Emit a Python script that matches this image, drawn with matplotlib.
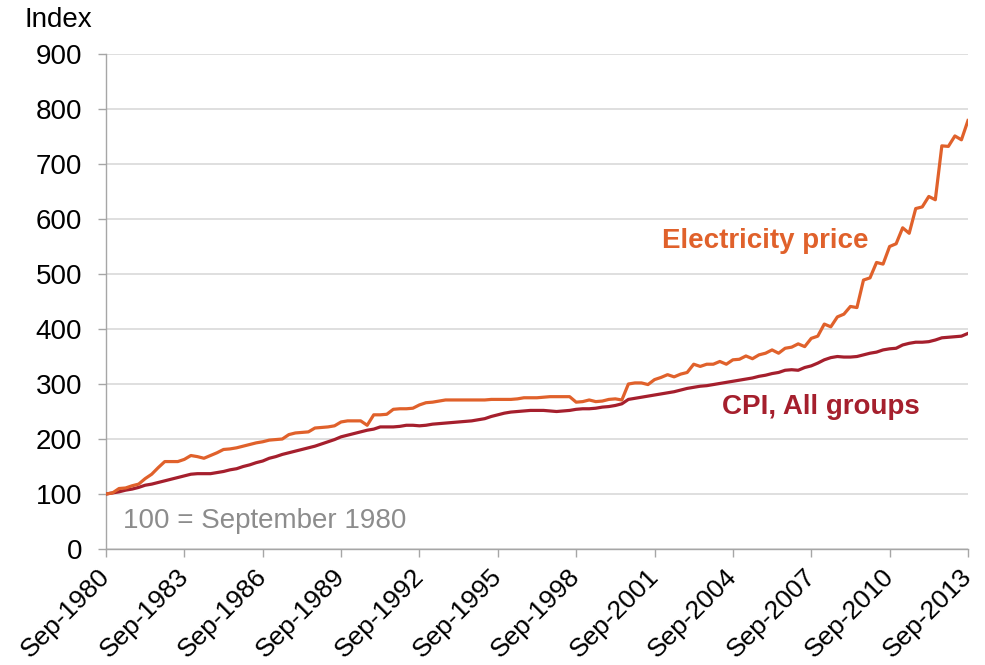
"""
Electricity price vs CPI (All groups), index 100 = September 1980, quarterly.
"""

import matplotlib
matplotlib.use("Agg")
import matplotlib.pyplot as plt
import matplotlib.transforms as mtransforms
import numpy as np

plt.rcParams.update({
    'font.family': ['Liberation Sans', 'DejaVu Sans'],
    'font.size': 20,
    'axes.linewidth': 1.0,
    'axes.spines.top': False,
    'axes.spines.right': False,
    'figure.facecolor': 'white',
})

# Quarterly series, Sep-1980 .. Sep-2013 (133 quarters)
electricity = [
    100, 102, 110, 111, 115, 118, 128, 136, 148, 159, 159, 159,
    163, 170, 168, 165, 170, 175, 181, 182, 184, 187, 190, 193,
    195, 198, 199, 200, 208, 211, 212, 213, 220, 221, 222, 224,
    231, 233, 233, 233, 225, 244, 244, 245, 254, 255, 255, 256,
    262, 266, 267, 269, 271, 271, 271, 271, 271, 271, 271, 272,
    272, 272, 272, 273, 275, 275, 275, 276, 277, 277, 277, 277,
    267, 268, 271, 268, 269, 272, 273, 271, 300, 302, 302, 299,
    308, 312, 317, 313, 318, 321, 336, 332, 336, 336, 341, 336,
    344, 345, 351, 346, 353, 356, 362, 356, 365, 367, 373, 368,
    383, 387, 409, 404, 422, 427, 441, 439, 489, 493, 521, 518,
    550, 555, 584, 574, 619, 622, 641, 635, 733, 732, 751, 744,
    779,
]

cpi = [
    100, 102, 104, 107, 109, 112, 116, 118, 121, 124, 127, 130,
    133, 136, 137, 137, 137, 139, 141, 144, 146, 150, 153, 157,
    160, 165, 168, 172, 175, 178, 181, 184, 187, 191, 195, 199,
    204, 207, 210, 213, 216, 218, 222, 222, 222, 223, 225, 225,
    224, 225, 227, 228, 229, 230, 231, 232, 233, 235, 237, 241,
    244, 247, 249, 250, 251, 252, 252, 252, 251, 250, 251, 252,
    254, 255, 255, 256, 258, 259, 261, 264, 272, 274, 276, 278,
    280, 282, 284, 286, 289, 292, 294, 296, 297, 299, 301, 303,
    305, 307, 309, 311, 314, 316, 319, 321, 325, 326, 325, 330,
    333, 338, 344, 348, 350, 349, 349, 350, 353, 356, 358, 362,
    364, 365, 371, 374, 376, 376, 377, 380, 384, 385, 386, 387,
    392,
]

tick_labels = ["Sep-1980", "Sep-1983", "Sep-1986", "Sep-1989", "Sep-1992",
               "Sep-1995", "Sep-1998", "Sep-2001", "Sep-2004", "Sep-2007",
               "Sep-2010", "Sep-2013"]

ELEC_COLOR = "#E0612B"
CPI_COLOR = "#A51F2D"
GRID_COLOR = "#D9D9D9"
AXIS_COLOR = "#A6A6A6"


def main():
    fig = plt.figure(figsize=(9.85, 6.65), dpi=100)
    ax = fig.add_axes([0.1076, 0.1744, 0.8751, 0.7444])

    x = np.arange(len(electricity))
    ax.plot(x, cpi, color=CPI_COLOR, linewidth=2.3, zorder=3)
    ax.plot(x, electricity, color=ELEC_COLOR, linewidth=2.3, zorder=4)

    ax.set_xlim(0, len(electricity) - 1)
    ax.set_ylim(0, 900)
    ax.set_yticks(np.arange(0, 901, 100))
    ax.set_xticks(np.arange(0, len(electricity), 12))
    ax.set_xticklabels(tick_labels, rotation=45, ha='right', va='top',
                       rotation_mode='anchor', fontsize=19)

    ax.yaxis.grid(True, color=GRID_COLOR, linewidth=1.2)
    ax.set_axisbelow(True)
    for side in ['left', 'bottom']:
        ax.spines[side].set_color(AXIS_COLOR)
    ax.tick_params(axis='both', colors=AXIS_COLOR, labelcolor='black',
                   length=6, width=1.0)
    ax.tick_params(axis='y', pad=11)
    ax.tick_params(axis='x', pad=5)

    # nudge rotated labels a little to the left, as in the original
    shift = mtransforms.ScaledTranslation(-0.08, 0, fig.dpi_scale_trans)
    for lbl in ax.get_xticklabels():
        lbl.set_transform(lbl.get_transform() + shift)

    ax.text(101, 560, "Electricity price", color=ELEC_COLOR, fontsize=20,
            fontweight='bold', ha='center', va='center')
    ax.text(109.5, 258, "CPI, All groups", color=CPI_COLOR, fontsize=20,
            fontweight='bold', ha='center', va='center')
    ax.text(2.6, 51, "100 = September 1980", color="#8C8C8C", fontsize=20,
            ha='left', va='center')
    fig.text(0.025, 0.97, "Index", fontsize=20, ha='left', va='center')

    fig.savefig("out.png", dpi=100)


if __name__ == "__main__":
    main()
